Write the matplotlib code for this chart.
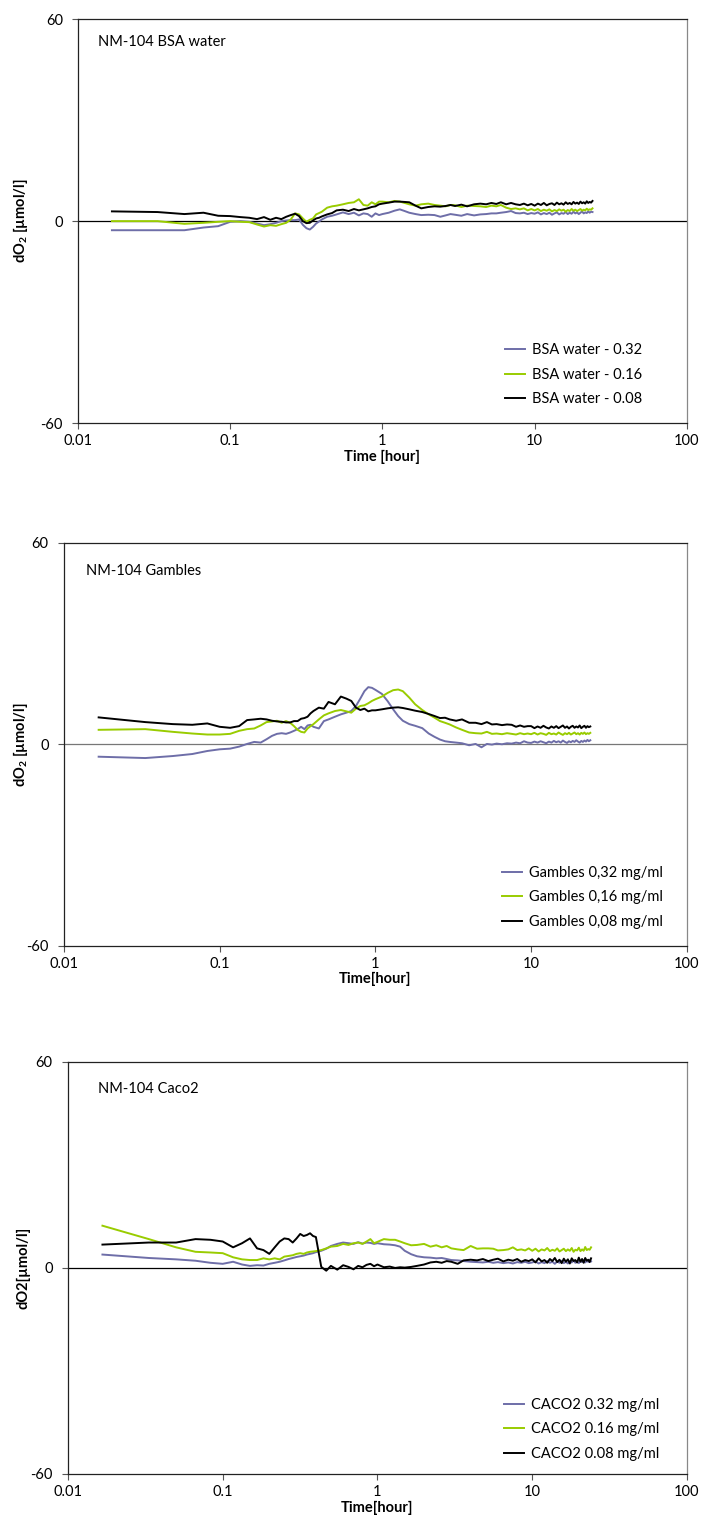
import matplotlib
matplotlib.use('Agg')
import matplotlib.pyplot as plt
from matplotlib.ticker import FixedLocator, NullLocator, FuncFormatter

plt.rcParams['font.family'] = ['Lato', 'DejaVu Sans']
plt.rcParams['mathtext.fontset'] = 'custom'
plt.rcParams['mathtext.rm'] = 'Lato'
plt.rcParams['mathtext.bf'] = 'Lato:bold'
plt.rcParams['axes.unicode_minus'] = False

# time in hours (shared by all panels)
time_h = [0.0167, 0.0333, 0.05, 0.0667, 0.0833, 0.1, 0.1167, 0.1333, 0.15, 0.1667,
          0.1833, 0.2, 0.2167, 0.2333, 0.25, 0.2667, 0.2833, 0.3, 0.3167, 0.3333,
          0.35, 0.3667, 0.3833, 0.4, 0.4333, 0.4667, 0.5, 0.55, 0.6, 0.65,
          0.7, 0.75, 0.8, 0.85, 0.9, 0.95, 1.0, 1.1, 1.2, 1.3,
          1.4, 1.5, 1.65, 1.8, 2.0, 2.2, 2.4, 2.6, 2.8, 3.0,
          3.3, 3.6, 4.0, 4.4, 4.8, 5.2, 5.6, 6.0, 6.5, 7.0,
          7.5, 8.0, 8.5, 9.0, 9.5, 10, 10.5, 11, 11.5, 12,
          12.5, 13, 13.5, 14, 14.5, 15, 15.5, 16, 16.5, 17,
          17.5, 18, 18.5, 19, 19.5, 20, 20.5, 21, 21.5, 22,
          22.5, 23, 23.5, 24]

# panel 1 - BSA water
bsa_032 = [-2.7, -2.7, -2.7, -1.9, -1.5, -0.2, 0.0, -0.2, -0.7, -1.2,
           -0.9, -0.5, 0.0, 0.2, 0.3, 0.3, 0.5, -1.1, -2.1, -2.5,
           -1.7, -0.7, -0.1, 0.5, 1.3, 1.6, 2.0, 2.6, 2.1, 2.5,
           1.7, 2.3, 2.1, 1.3, 2.3, 1.8, 2.1, 2.5, 3.1, 3.5,
           3.0, 2.5, 2.1, 1.8, 1.9, 1.8, 1.3, 1.7, 2.1, 1.9,
           1.6, 2.1, 1.7, 2.0, 2.1, 2.3, 2.3, 2.5, 2.7, 3.0,
           2.4, 2.3, 2.5, 2.1, 2.4, 2.2, 2.6, 2.0, 2.4, 2.1,
           2.5, 1.9, 2.3, 2.6, 2.0, 2.4, 2.2, 2.7, 2.1, 2.5,
           2.2, 2.8, 2.3, 2.6, 2.1, 2.5, 2.9, 2.3, 2.6, 2.4,
           2.9, 2.5, 2.8, 2.7]
bsa_016 = [0.0, 0.0, -0.8, -0.5, -0.2, 0.0, -0.2, -0.3, -1.0, -1.6,
           -1.2, -1.4, -0.9, -0.5, 0.5, 2.3, 2.0, 0.8, -0.2, 0.4,
           0.8, 2.0, 2.4, 2.8, 4.0, 4.4, 4.6, 5.0, 5.4, 5.6,
           6.5, 4.8, 4.6, 5.6, 5.0, 5.8, 5.8, 5.6, 6.0, 5.8,
           5.4, 5.0, 4.6, 5.0, 5.2, 4.8, 4.6, 4.4, 4.8, 4.7,
           4.2, 4.6, 4.5, 4.4, 4.2, 4.6, 4.4, 4.8, 4.0, 3.6,
           3.8, 3.5, 3.8, 3.2, 3.6, 3.2, 3.6, 3.0, 3.4, 3.1,
           3.5, 2.9, 3.3, 3.0, 3.5, 3.1, 3.4, 2.8, 3.3, 3.0,
           3.6, 3.1, 3.4, 3.0, 3.3, 3.6, 3.1, 3.4, 3.2, 3.7,
           3.3, 3.5, 3.4, 3.8]
bsa_008 = [2.9, 2.7, 2.1, 2.5, 1.6, 1.5, 1.2, 1.0, 0.6, 1.2,
           0.4, 1.0, 0.6, 1.3, 1.8, 2.2, 1.5, 0.0, -0.6, -0.5,
           0.2, 0.8, 1.0, 1.4, 2.0, 2.4, 3.2, 3.4, 3.0, 3.6,
           3.2, 3.5, 3.8, 4.2, 4.4, 5.0, 5.2, 5.5, 5.8, 5.8,
           5.7, 5.6, 4.6, 3.8, 4.2, 4.4, 4.3, 4.5, 4.8, 4.5,
           4.9, 4.4, 5.0, 5.2, 5.0, 5.4, 5.1, 5.6, 5.0, 5.4,
           5.0, 4.8, 5.2, 4.7, 5.1, 4.6, 5.2, 4.8, 5.4, 4.7,
           5.1, 5.3, 4.8, 5.5, 5.0, 5.3, 4.9, 5.6, 5.1, 5.4,
           5.0, 5.7, 5.2, 5.5, 5.1, 5.8, 5.3, 5.6, 5.2, 5.9,
           5.4, 5.7, 5.5, 6.0]

# panel 2 - Gambles
gam_032 = [-3.7, -4.1, -3.5, -2.9, -2.0, -1.5, -1.3, -0.7, 0.1, 0.7,
           0.5, 1.5, 2.5, 3.1, 3.3, 3.1, 3.5, 4.0, 4.5, 5.2,
           4.5, 5.6, 5.8, 5.2, 4.7, 6.9, 7.4, 8.2, 8.9, 9.4,
           9.9, 11.4, 13.6, 15.8, 17.0, 16.8, 16.2, 15.0, 12.8, 10.4,
           8.4, 7.0, 6.0, 5.5, 4.8, 3.2, 2.2, 1.4, 0.9, 0.7,
           0.5, 0.3, -0.3, 0.1, -0.9, 0.1, -0.1, 0.2, 0.0, 0.3,
           0.2, 0.5, 0.3, 0.9, 0.5, 0.4, 0.8, 0.5, 0.9, 0.6,
           0.3, 0.8, 0.5, 1.0, 0.6, 0.9, 0.5, 1.1, 0.7, 0.4,
           0.9, 0.6, 1.0, 0.7, 1.2, 0.8, 0.5, 1.0, 0.7, 1.1,
           0.8, 1.3, 0.9, 1.2]
gam_016 = [4.3, 4.5, 3.7, 3.2, 2.9, 2.9, 3.1, 4.0, 4.5, 4.7,
           5.6, 6.6, 6.8, 7.0, 6.4, 6.9, 6.4, 5.4, 4.3, 3.7,
           3.5, 4.7, 5.4, 6.0, 7.4, 8.6, 9.2, 9.9, 10.2, 9.8,
           9.4, 10.6, 11.4, 11.6, 12.2, 12.9, 13.4, 14.2, 15.3, 16.1,
           16.3, 15.8, 13.9, 11.9, 10.2, 8.9, 7.9, 6.9, 6.4, 5.9,
           5.0, 4.3, 3.5, 3.3, 3.2, 3.7, 3.1, 3.2, 3.0, 3.3,
           3.1, 2.9, 3.3, 3.0, 3.2, 3.0, 3.4, 2.9, 3.3, 3.1,
           2.8, 3.4, 3.0, 3.2, 2.9, 3.5, 3.1, 2.8, 3.3, 3.0,
           3.4, 2.9, 3.2, 3.5, 3.0, 3.3, 2.9, 3.4, 3.1, 3.5,
           3.0, 3.3, 3.1, 3.4]
gam_008 = [8.0, 6.6, 6.0, 5.8, 6.2, 5.2, 4.9, 5.4, 7.2, 7.4,
           7.6, 7.4, 7.0, 6.8, 6.7, 6.5, 6.5, 6.9, 6.9, 7.6,
           7.8, 8.2, 9.2, 9.9, 10.9, 10.6, 12.6, 11.9, 14.2, 13.6,
           12.9, 10.9, 10.2, 10.6, 9.8, 10.1, 10.1, 10.4, 10.7, 10.9,
           11.0, 10.8, 10.4, 10.0, 9.6, 9.0, 8.4, 7.8, 7.9, 7.4,
           7.0, 7.4, 6.4, 6.4, 6.0, 6.6, 5.9, 6.0, 5.7, 5.9,
           5.8, 5.2, 5.6, 5.2, 5.4, 5.4, 4.8, 5.3, 4.9, 5.5,
           5.0, 4.7, 5.3, 4.9, 5.4, 4.8, 5.2, 5.6, 4.9, 5.3,
           4.7, 5.2, 5.5, 4.9, 5.3, 5.0, 5.6, 4.8, 5.2, 5.5,
           4.9, 5.4, 5.1, 5.3]

# panel 3 - Caco2
cac_032 = [3.9, 2.9, 2.5, 2.1, 1.5, 1.2, 1.8, 1.0, 0.6, 0.8,
           0.7, 1.2, 1.5, 1.8, 2.2, 2.6, 2.9, 3.2, 3.4, 3.6,
           3.9, 4.1, 4.3, 4.6, 5.0, 5.6, 6.4, 7.0, 7.4, 7.2,
           7.0, 7.5, 7.1, 7.4, 7.3, 7.0, 7.2, 6.9, 6.8, 6.6,
           6.2, 5.0, 4.0, 3.4, 3.1, 3.0, 2.8, 2.9, 2.6, 2.3,
           2.2, 2.0, 1.8, 1.7, 1.6, 1.8, 1.5, 1.7, 1.4, 1.6,
           1.3, 1.7, 1.5, 1.8, 1.4, 1.6, 1.9, 1.3, 1.7, 1.4,
           2.0, 1.5, 1.8, 1.2, 1.9, 1.5, 2.1, 1.4, 1.8, 1.3,
           2.0, 1.6, 2.2, 1.5, 1.9, 1.4, 2.1, 1.7, 2.3, 1.6,
           2.0, 1.8, 2.4, 1.9]
cac_016 = [12.3, 8.4, 6.0, 4.7, 4.5, 4.3, 3.1, 2.5, 2.3, 2.3,
           2.8, 2.5, 2.8, 2.5, 3.3, 3.5, 3.7, 4.1, 4.3, 4.1,
           4.5, 4.7, 4.8, 4.9, 5.2, 5.7, 6.2, 6.4, 7.0, 6.7,
           7.2, 7.4, 7.0, 7.7, 8.4, 7.2, 7.6, 8.4, 8.2, 8.2,
           7.7, 7.2, 6.6, 6.7, 7.0, 6.2, 6.6, 6.0, 6.4, 5.7,
           5.4, 5.2, 6.4, 5.6, 5.7, 5.7, 5.6, 5.1, 5.2, 5.4,
           6.0, 5.2, 5.4, 5.1, 5.7, 5.0, 5.6, 4.8, 5.4, 5.1,
           5.8, 4.9, 5.3, 5.0, 5.7, 4.8, 5.2, 5.6, 4.9, 5.4,
           5.0, 5.8, 4.7, 5.3, 5.1, 5.9, 4.9, 5.4, 5.0, 6.1,
           5.2, 5.5, 5.3, 6.0]
cac_008 = [6.8, 7.4, 7.4, 8.4, 8.2, 7.7, 6.0, 7.2, 8.6, 5.7,
           5.2, 4.1, 6.0, 7.7, 8.6, 8.4, 7.4, 8.6, 9.9, 9.3,
           9.6, 10.1, 9.3, 9.0, 0.3, -0.8, 0.6, -0.5, 0.8, 0.3,
           -0.4, 0.6, 0.2, 0.9, 1.2, 0.5, 1.0, 0.2, 0.4, 0.0,
           0.2, 0.1, 0.3, 0.6, 1.0, 1.6, 1.8, 1.5, 2.0, 1.8,
           1.2, 2.2, 2.4, 2.2, 2.6, 2.0, 2.4, 2.7, 1.9, 2.4,
           2.1, 2.6, 1.8, 2.3, 2.0, 2.5, 1.6, 2.8, 1.9, 2.3,
           1.5, 2.6, 2.0, 2.9, 1.7, 2.4, 1.4, 2.7, 1.8, 2.5,
           1.3, 2.8, 2.0, 2.3, 1.6, 3.0, 1.8, 2.6, 1.5, 2.9,
           2.1, 2.4, 1.7, 2.8]

titles = ['NM-104 BSA water', 'NM-104 Gambles', 'NM-104 Caco2']
ylabels = [r'dO$_\mathbf{2}$ [µmol/l]', r'dO$_\mathbf{2}$ [µmol/l]', 'dO2[µmol/l]']
xlabels = ['Time [hour]', 'Time[hour]', 'Time[hour]']
labels = [['BSA water - 0.32', 'BSA water - 0.16', 'BSA water - 0.08'],
          ['Gambles 0,32 mg/ml', 'Gambles 0,16 mg/ml', 'Gambles 0,08 mg/ml'],
          ['CACO2 0.32 mg/ml', 'CACO2 0.16 mg/ml', 'CACO2 0.08 mg/ml']]
series = [[bsa_032, bsa_016, bsa_008],
          [gam_032, gam_016, gam_008],
          [cac_032, cac_016, cac_008]]
colors = ['#6E6EA8', '#99CC00', '#000000']

positions = [[0.111, 0.724, 0.866, 0.2635],
             [0.091, 0.383, 0.886, 0.263],
             [0.0967, 0.0385, 0.8805, 0.2688]]
title_xy = [(0.033, 0.943), (0.035, 0.93), (0.048, 0.934)]
ylab_x = [-0.079, -0.055, -0.061]
leg_anchor = [(0.926, 0.042), (0.961, 0.042), (0.955, 0.032)]
zero_col = ['#000000', '#777777', '#000000']

fig = plt.figure(figsize=(7.03, 15.33), dpi=100)
fs = 10.5

for i in range(3):
    ax = fig.add_axes(positions[i])
    ax.set_xscale('log')
    ax.set_xlim(0.01, 100)
    ax.set_ylim(-60, 60)
    ax.axhline(0, color=zero_col[i], lw=0.9, zorder=1)
    for vals, col, lab in zip(series[i], colors, labels[i]):
        ax.plot(time_h, vals, color=col, lw=1.4, label=lab, zorder=2)

    ax.xaxis.set_major_locator(FixedLocator([0.01, 0.1, 1, 10, 100]))
    ax.xaxis.set_minor_locator(NullLocator())
    ax.xaxis.set_major_formatter(FuncFormatter(lambda v, p: f'{v:g}'))
    ax.set_yticks([-60, 0, 60])
    ax.tick_params(axis='both', direction='out', length=4, width=0.8,
                   labelsize=fs, color='#555555')
    ax.tick_params(axis='x', pad=4)
    ax.tick_params(axis='y', pad=7)

    for side in ['left', 'top', 'bottom']:
        ax.spines[side].set_color('#222222')
        ax.spines[side].set_linewidth(0.9)
    ax.spines['right'].set_color('#888888')
    ax.spines['right'].set_linewidth(0.9)

    ax.text(title_xy[i][0], title_xy[i][1], titles[i], transform=ax.transAxes,
            fontsize=fs, va='center', ha='left')
    ax.set_ylabel(ylabels[i], fontsize=fs, fontweight='bold')
    ax.yaxis.set_label_coords(ylab_x[i], 0.5)
    ax.set_xlabel(xlabels[i], fontsize=fs, fontweight='bold', labelpad=1)

    ax.legend(loc='lower right', bbox_to_anchor=leg_anchor[i], frameon=False,
              fontsize=fs, handlelength=1.4, handletextpad=0.45,
              labelspacing=0.72, borderpad=0, borderaxespad=0)

fig.savefig('out.png', dpi=100)
